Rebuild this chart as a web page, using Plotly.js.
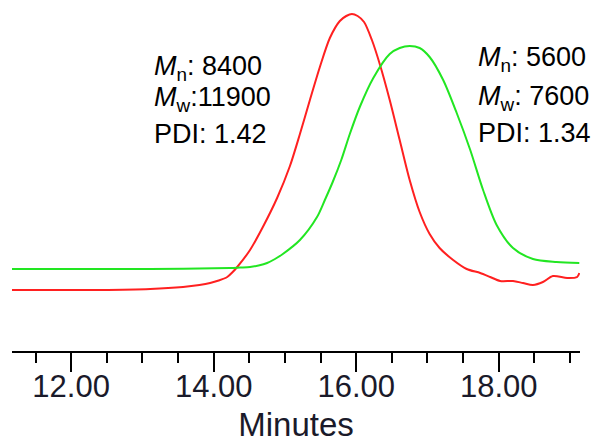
<!DOCTYPE html>
<html>
<head>
<meta charset="utf-8">
<script src="https://cdn.plot.ly/plotly-3.0.1.min.js"></script>
<style>html,body{margin:0;padding:0;background:#fff;}#chart{width:601px;height:443px;}</style>
</head>
<body>
<div id="chart"></div>
<script>
// Retention time (minutes) and detector response (arbitrary units)
var redMinutes = [11.17, 12.40, 13.11, 13.57, 13.80, 13.95, 14.07, 14.19, 14.26, 14.33, 14.51, 14.69, 14.89, 15.07, 15.21, 15.35, 15.49, 15.63, 15.77, 15.86, 15.94, 16.02, 16.11, 16.22, 16.33, 16.47, 16.61, 16.75, 16.89, 17.03, 17.17, 17.36, 17.55, 17.74, 17.88, 18.02, 18.20, 18.34, 18.48, 18.62, 18.76, 18.96, 19.10, 19.13];
var redSignal  = [0, 0, 1, 3, 5, 7, 9.5, 13, 17.5, 23, 40, 63, 92, 124, 156, 190, 223, 252, 269, 274, 276, 274, 268, 250, 226, 190, 150, 110, 78, 56, 42, 30, 21, 17, 13, 9, 9, 7, 5, 8, 14, 12, 13, 17];

var greenMinutes = [11.17, 13.11, 14.23, 14.37, 14.51, 14.63, 14.75, 14.86, 14.97, 15.21, 15.45, 15.56, 15.67, 15.79, 15.91, 16.05, 16.24, 16.47, 16.61, 16.75, 16.89, 17.03, 17.22, 17.41, 17.60, 17.78, 17.97, 18.20, 18.48, 18.81, 19.13];
var greenSignal  = [21, 21, 22, 22.5, 23, 24.5, 27, 31, 36, 50, 73, 90, 108, 130, 156, 183, 212, 236, 242, 244, 242, 233, 210, 177, 140, 100, 65, 42, 31, 28, 27];

var leftLabels  = ['<i>M</i><sub>n</sub>: 8400', '<i>M</i><sub>w</sub>:11900', 'PDI: 1.42'];
var rightLabels = ['<i>M</i><sub>n</sub>: 5600', '<i>M</i><sub>w</sub>: 7600', 'PDI: 1.34'];
var leftY  = [0.806, 0.718, 0.618];
var rightY = [0.832, 0.721, 0.621];

var FONT = 'Arial, Liberation Sans, sans-serif';

var traces = [
  {x: redMinutes, y: redSignal, type: 'scatter', mode: 'lines', name: 'Sample 1',
   line: {color: '#ff2020', width: 2, shape: 'spline', smoothing: 0.8}, hoverinfo: 'x+y'},
  {x: greenMinutes, y: greenSignal, type: 'scatter', mode: 'lines', name: 'Sample 2',
   line: {color: '#22e622', width: 2, shape: 'spline', smoothing: 0.8}, hoverinfo: 'x+y'}
];

var annotations = [];
leftLabels.forEach(function (t, i) {
  annotations.push({text: t, xref: 'paper', yref: 'paper', x: 0.248, y: leftY[i],
    xanchor: 'left', yanchor: 'middle', showarrow: false, borderpad: 0,
    font: {family: FONT, size: 27, color: '#000'}});
});
rightLabels.forEach(function (t, i) {
  annotations.push({text: t, xref: 'paper', yref: 'paper', x: 0.8187, y: rightY[i],
    xanchor: 'left', yanchor: 'middle', showarrow: false, borderpad: 0,
    font: {family: FONT, size: 27, color: '#000'}});
});

var layout = {
  width: 601, height: 443,
  margin: {l: 12, r: 21, t: 0, b: 92},
  paper_bgcolor: '#fff', plot_bgcolor: '#fff',
  showlegend: false,
  xaxis: {
    range: [11.17, 19.14], showgrid: false, zeroline: false,
    showline: true, linecolor: '#000', linewidth: 2,
    ticks: 'outside', ticklen: 19, tickwidth: 2, tickcolor: '#000',
    tick0: 12, dtick: 2, tickformat: '.2f', ticklabelstandoff: -12,
    tickfont: {family: FONT, size: 31, color: '#1a1a2a'},
    minor: {dtick: 0.5, ticks: 'outside', ticklen: 10, tickwidth: 2, tickcolor: '#000', showgrid: false},
    title: {text: 'Minutes', standoff: 16, font: {family: FONT, size: 33, color: '#1a1a2a'}}
  },
  yaxis: {range: [-61, 290], visible: false, showgrid: false, zeroline: false},
  annotations: annotations
};

Plotly.newPlot('chart', traces, layout, {displayModeBar: false, staticPlot: true});
</script>
</body>
</html>
